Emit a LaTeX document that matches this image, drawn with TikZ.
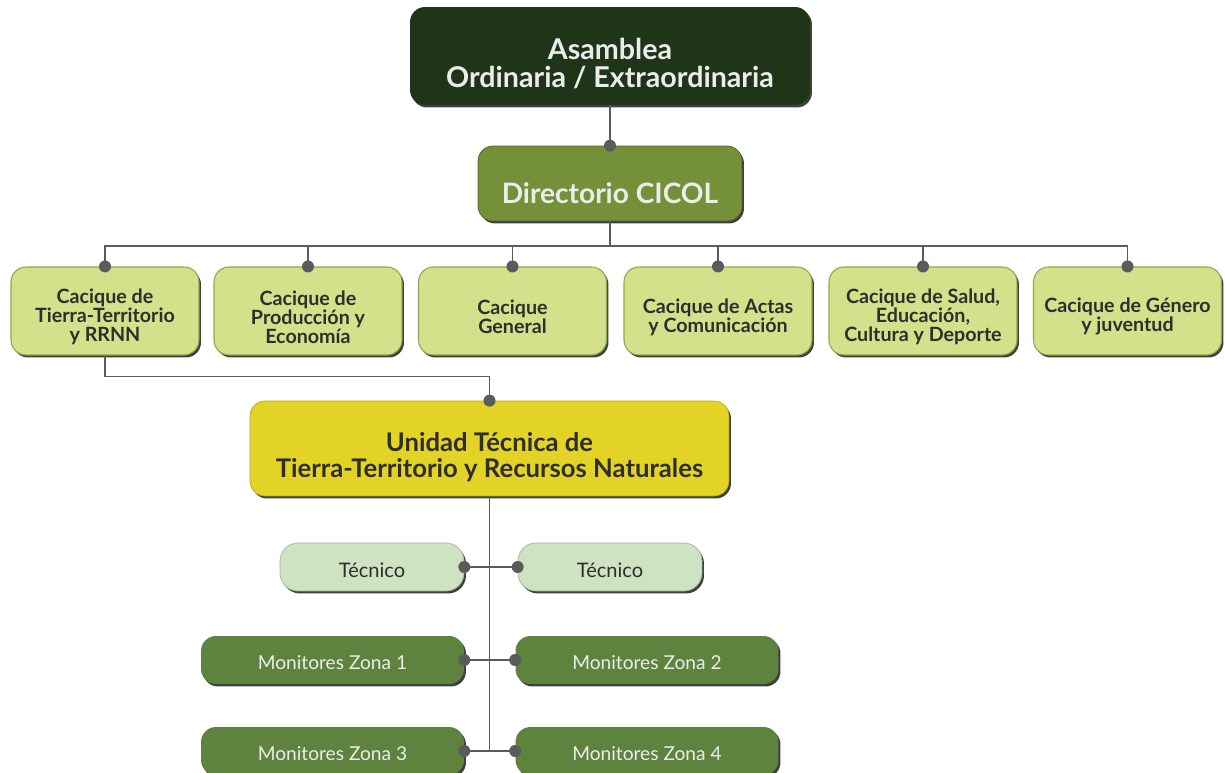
\documentclass[tikz,border=0pt]{standalone}
\usepackage{fontspec}
\setmainfont{Lato}
\usetikzlibrary{shadows}
\definecolor{asamc}{HTML}{1E3518}
\definecolor{dirc}{HTML}{74913A}
\definecolor{cacc}{HTML}{D4E08A}
\definecolor{cacb}{HTML}{86AD45}
\definecolor{unic}{HTML}{E2D326}
\definecolor{tecc}{HTML}{CDE3C1}
\definecolor{monc}{HTML}{5E833F}
\definecolor{linec}{HTML}{5A5B5D}
\definecolor{darktext}{HTML}{2E2E2E}
\definecolor{lighttext}{HTML}{ECECEC}
% strut that lowers a node's text
\newcommand{\lift}[1]{\rule{0pt}{#1}}

\begin{document}
\begin{tikzpicture}[x=0.02cm,y=-0.02cm]
\tikzset{box/.style = {rounded corners=0.3cm,align=center,inner sep=0pt,
  drop shadow={shadow xshift=0.04cm,shadow yshift=-0.05cm,fill=black,opacity=0.75}}}
\tikzset{cacique/.style = {box,fill=cacc,draw=cacb,line width=0.6pt,text=darktext,
  minimum width=3.76cm,minimum height=1.76cm,font=\bfseries\fontsize{11.2}{10.8}\selectfont}}
\tikzset{tecnico/.style = {box,rounded corners=0.36cm,fill=tecc,draw=tecc!80!black,line width=0.4pt,
  text=darktext,minimum width=3.68cm,minimum height=0.96cm,font=\fontsize{11.4}{12}\selectfont}}
\tikzset{monitor/.style = {box,fill=monc,text=lighttext,
  minimum width=5.26cm,minimum height=0.96cm,font=\fontsize{10.9}{12}\selectfont}}
\tikzset{edge/.style = {draw=linec,line width=1.1pt}}
\tikzset{dot/.style = {fill=linec}}
\path[use as bounding box,clip] (0,0) rectangle (1225,773);
% vertices
\node[box,fill=asamc,text=lighttext,minimum width=8cm,minimum height=1.96cm,
  font=\bfseries\fontsize{16.3}{16}\selectfont] (asam) at (610,56) {\lift{21pt}Asamblea\\Ordinaria / Extraordinaria};
\node[box,fill=dirc,draw=dirc!70!black,text=lighttext,minimum width=5.28cm,minimum height=1.5cm,
  font=\bfseries\fontsize{16}{18}\selectfont] (dir) at (610,183.5) {\lift{23pt}Directorio CICOL};
\node[cacique] (c1) at (105,311) {\lift{15pt}Cacique de\\Tierra-Territorio\\y RRNN};
\node[cacique] (c2) at (308,311) {\lift{15pt}Cacique de\\Producción y\\Economía};
\node[cacique] (c3) at (512.5,311) {\lift{15pt}Cacique\\General};
\node[cacique] (c4) at (718,311) {\lift{15pt}Cacique de Actas\\y Comunicación};
\node[cacique] (c5) at (923,311) {\lift{15pt}Cacique de Salud,\\Educación,\\Cultura y Deporte};
\node[cacique] (c6) at (1127.5,311) {\lift{15pt}Cacique de Género\\y juventud};
\node[box,fill=unic,draw=unic!80!black,line width=0.4pt,text=darktext,minimum width=9.58cm,minimum height=1.9cm,
  font=\bfseries\fontsize{14.6}{14.8}\selectfont] (uni) at (489.5,448.5) {\lift{20.4pt}Unidad Técnica de\\Tierra-Territorio y Recursos Naturales};
\node[tecnico] (t1) at (372,567) {\lift{12.3pt}Técnico};
\node[tecnico] (t2) at (610,567) {\lift{12.3pt}Técnico};
\node[monitor] (m1) at (332.5,660) {\lift{11.2pt}Monitores Zona 1};
\node[monitor] (m2) at (647,660) {\lift{11.2pt}Monitores Zona 2};
\node[monitor] (m3) at (332.5,751) {\lift{11.2pt}Monitores Zona 3};
\node[monitor] (m4) at (647,751) {\lift{11.2pt}Monitores Zona 4};
%edges
\coordinate (bus) at (610,246);
\draw[edge] (asam.south) -- (dir.north);
\draw[edge] (dir.south) -- (bus);
\foreach \i in {1,...,6}
  \draw[edge] (bus) -| (c\i.north);
\draw[edge] (c1.south) -- ++(0,21) -| (uni.north);
\draw[edge] (uni.south) -- (uni.south |- m3.east);
\draw[edge] (t1.east) -- (t2.west);
\draw[edge] (m1.east) -- (m2.west);
\draw[edge] (m3.east) -- (m4.west);
% dots
\foreach \n in {dir.north,c1.north,c2.north,c3.north,c4.north,c5.north,c6.north,uni.north,
  t1.east,t2.west,m1.east,m2.west,m3.east,m4.west}
  \fill[dot] (\n) circle (0.12cm);
\end{tikzpicture}
\end{document}
